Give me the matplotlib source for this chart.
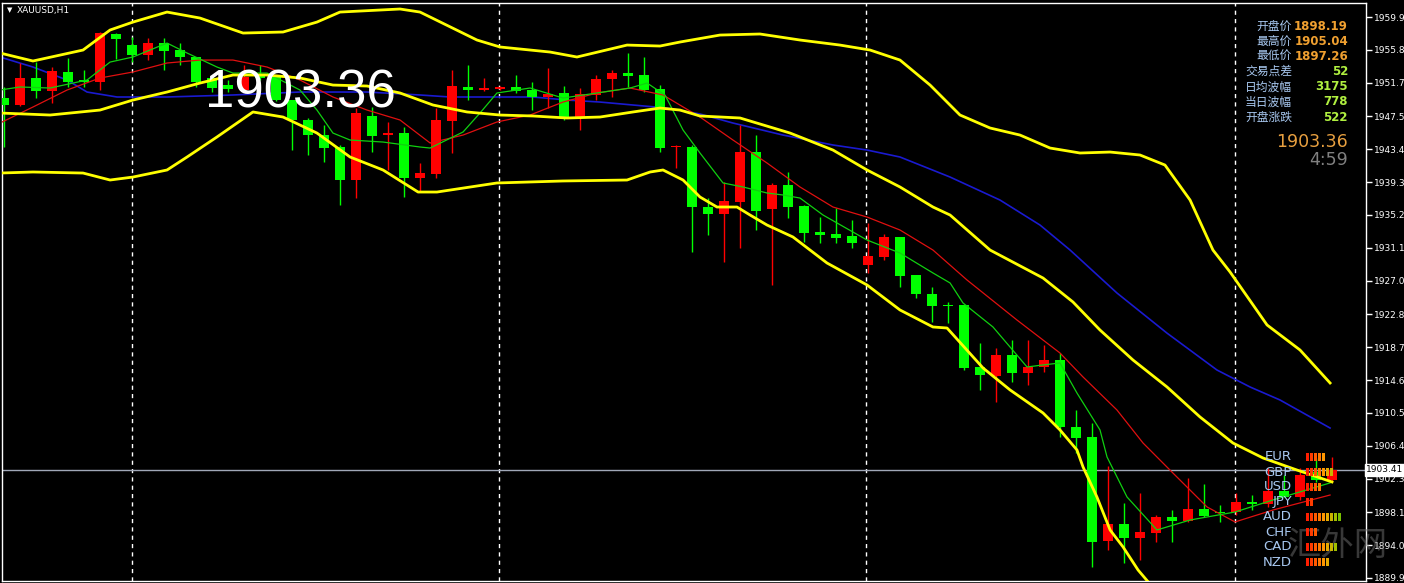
import numpy as np
import matplotlib.pyplot as plt
from matplotlib.patches import Rectangle

# %% candles (XAUUSD H1)
opens = [1949.79, 1948.92, 1952.29, 1950.67, 1953.04, 1952.04, 1951.79, 1957.78, 1956.40, 1955.16,
         1956.65, 1955.78, 1954.91, 1952.29, 1951.41, 1950.79, 1952.66, 1952.41, 1949.54, 1947.05,
         1945.17, 1943.68, 1939.56, 1947.55, 1945.17, 1945.42, 1939.81, 1940.31, 1946.92, 1951.17,
         1950.79, 1950.92, 1951.17, 1950.79, 1949.92, 1950.42, 1947.30, 1950.17, 1952.16, 1952.91,
         1952.66, 1950.92, 1943.62, 1943.68, 1936.19, 1935.32, 1936.81, 1943.05, 1935.94, 1938.94,
         1936.32, 1933.07, 1932.82, 1932.57, 1928.95, 1929.95, 1932.45, 1927.71, 1925.34, 1924.00,
         1923.96, 1916.23, 1915.10, 1917.72, 1915.47, 1916.23, 1917.10, 1908.74, 1907.49, 1894.51,
         1896.64, 1894.89, 1895.51, 1897.51, 1897.01, 1898.51, 1898.07, 1898.13, 1899.38, 1899.13,
         1900.75, 1900.00, 1903.12, 1902.13]
highs = [1951.17, 1954.16, 1954.28, 1953.66, 1954.78, 1953.29, 1958.00, 1957.85, 1957.40, 1957.28,
         1957.28, 1956.65, 1954.95, 1952.54, 1952.04, 1953.91, 1953.91, 1952.66, 1949.60, 1947.30,
         1946.42, 1943.93, 1948.54, 1948.67, 1946.80, 1946.17, 1941.68, 1948.54, 1953.29, 1953.91,
         1952.29, 1951.29, 1952.66, 1951.79, 1953.53, 1951.29, 1951.04, 1952.66, 1953.29, 1955.41,
         1954.91, 1951.41, 1943.93, 1943.93, 1937.31, 1939.31, 1946.42, 1945.17, 1939.19, 1940.56,
         1936.44, 1934.94, 1936.07, 1934.57, 1934.19, 1932.82, 1932.50, 1927.75, 1926.21, 1924.34,
         1924.00, 1919.22, 1918.60, 1919.59, 1919.59, 1918.97, 1917.97, 1910.86, 1909.24, 1903.87,
         1899.26, 1900.50, 1897.76, 1898.38, 1902.37, 1901.63, 1899.01, 1900.50, 1900.25, 1903.62,
         1902.75, 1903.62, 1904.87, 1905.04]
lows = [1943.68, 1948.79, 1949.79, 1949.17, 1951.17, 1951.17, 1950.79, 1954.66, 1954.28, 1954.53,
        1953.29, 1953.91, 1951.17, 1950.54, 1950.54, 1950.54, 1952.04, 1949.40, 1943.30, 1942.68,
        1941.81, 1936.44, 1937.31, 1943.05, 1940.81, 1937.44, 1938.06, 1939.81, 1942.93, 1949.54,
        1950.70, 1950.80, 1950.42, 1948.29, 1948.54, 1947.05, 1945.80, 1949.54, 1949.92, 1951.17,
        1950.54, 1943.05, 1941.06, 1930.57, 1932.69, 1929.33, 1931.07, 1933.32, 1926.46, 1934.82,
        1931.82, 1931.70, 1931.70, 1931.07, 1927.96, 1929.58, 1926.21, 1924.84, 1921.84, 1921.72,
        1915.85, 1913.36, 1911.86, 1914.35, 1913.98, 1915.60, 1907.49, 1905.49, 1891.27, 1893.39,
        1891.77, 1892.14, 1894.39, 1894.39, 1896.89, 1897.51, 1896.89, 1897.76, 1898.38, 1898.76,
        1900.00, 1899.63, 1901.88, 1901.88]
closes = [1948.92, 1952.29, 1950.67, 1953.16, 1951.79, 1951.79, 1957.90, 1957.15, 1955.16, 1956.65,
          1955.66, 1954.91, 1951.79, 1951.04, 1950.92, 1952.41, 1952.29, 1949.54, 1947.05, 1945.17,
          1943.55, 1939.56, 1947.92, 1945.05, 1945.42, 1939.81, 1940.43, 1947.05, 1951.29, 1950.79,
          1951.04, 1951.17, 1950.67, 1949.92, 1950.29, 1947.30, 1950.29, 1952.16, 1952.91, 1952.54,
          1950.79, 1943.55, 1943.75, 1936.19, 1935.32, 1936.94, 1943.05, 1935.69, 1938.94, 1936.19,
          1932.94, 1932.69, 1932.32, 1931.70, 1930.08, 1932.45, 1927.58, 1925.34, 1923.84, 1923.90,
          1916.10, 1915.22, 1917.72, 1915.47, 1916.23, 1917.10, 1908.74, 1907.37, 1894.39, 1896.64,
          1894.89, 1895.64, 1897.51, 1897.01, 1898.51, 1897.63, 1897.95, 1899.38, 1899.13, 1900.75,
          1900.00, 1902.75, 1902.13, 1903.36]

# %% indicator lines: (bar position, price) pairs
upper_x = [-0.25, 1.81, 4.94, 6.63, 8.06, 10.19, 12.25, 14.94, 17.44, 19.56, 21.0, 24.75, 26.0,
           29.56, 31.0, 34.13, 35.81, 38.94, 41.0, 42.25, 44.75, 47.25, 49.75, 52.25, 54.13, 56.0,
           57.88, 59.75, 61.63, 63.5, 65.38, 67.25, 69.13, 71.0, 72.56, 74.13, 75.56, 76.63, 78.94,
           81.0, 82.88]
upper_y = [1955.41, 1954.41, 1955.78, 1958.28, 1959.27, 1960.52, 1959.77, 1957.90, 1958.03, 1959.27,
           1960.52, 1960.90, 1960.52, 1957.03, 1956.16, 1955.53, 1954.91, 1956.40, 1956.28, 1956.78,
           1957.65, 1957.78, 1957.03, 1956.40, 1955.78, 1954.53, 1951.41, 1947.67, 1946.05, 1945.17,
           1943.55, 1942.93, 1943.05, 1942.68, 1941.43, 1937.06, 1930.82, 1928.08, 1921.47, 1918.35,
           1914.23]
mid_x = [-0.25, 2.88, 6.0, 8.06, 10.19, 12.25, 14.31, 16.44, 18.5, 20.56, 22.69, 24.75, 26.81,
         28.94, 31.0, 33.06, 35.19, 37.25, 39.31, 41.0, 42.25, 43.5, 46.0, 49.13, 51.81, 53.94,
         56.0, 58.06, 59.13, 61.63, 64.94, 66.81, 68.5, 70.56, 72.69, 74.75, 76.81, 78.69, 80.81, 83.0]
mid_y = [1947.92, 1947.67, 1948.29, 1949.54, 1950.54, 1951.66, 1952.66, 1952.66, 1952.29, 1951.41,
         1951.29, 1950.42, 1948.92, 1948.05, 1947.67, 1947.55, 1947.30, 1947.42, 1948.05, 1948.54,
         1948.29, 1947.55, 1947.30, 1945.42, 1943.30, 1940.81, 1938.69, 1936.19, 1935.19, 1930.82,
         1927.33, 1924.34, 1920.84, 1917.10, 1913.73, 1909.99, 1906.74, 1904.87, 1903.37, 1901.88]
lower_x = [-0.25, 1.81, 4.94, 6.63, 8.06, 10.19, 11.44, 13.31, 15.56, 17.44, 19.56, 21.63, 23.69,
           25.88, 27.06, 30.81, 34.94, 38.94, 40.38, 41.19, 42.44, 43.5, 44.56, 45.81, 46.63, 47.69,
           49.31, 51.44, 53.94, 56.0, 58.06, 58.94, 61.19, 62.88, 64.94, 66.0, 67.06, 67.44, 68.31,
           69.13, 69.94, 70.88, 71.94]
lower_y = [1940.43, 1940.56, 1940.43, 1939.56, 1939.93, 1940.81, 1942.43, 1944.93, 1948.05, 1947.42,
           1945.42, 1942.43, 1940.81, 1938.06, 1938.06, 1939.19, 1939.44, 1939.56, 1940.56, 1940.81,
           1939.56, 1937.44, 1936.19, 1936.19, 1935.19, 1933.94, 1932.45, 1929.20, 1926.46, 1923.34,
           1921.22, 1921.09, 1916.10, 1913.36, 1910.49, 1908.37, 1905.87, 1903.75, 1900.00, 1895.89,
           1893.77, 1890.89, 1888.40]
blue_x = [-0.25, 1.81, 3.94, 5.19, 7.06, 10.19, 14.31, 18.5, 22.69, 26.0, 27.88, 33.06, 35.19,
          37.25, 39.31, 41.44, 43.5, 45.56, 48.69, 51.81, 53.94, 56.0, 59.13, 62.25, 64.75, 66.63,
          69.56, 72.69, 75.81, 77.88, 79.75, 82.88]
blue_y = [1954.91, 1953.66, 1952.04, 1950.54, 1949.92, 1949.92, 1950.17, 1950.54, 1950.54, 1950.17,
          1949.92, 1949.92, 1949.54, 1949.29, 1948.92, 1948.54, 1947.80, 1946.67, 1945.17, 1943.93,
          1943.30, 1942.43, 1939.93, 1937.06, 1933.94, 1930.82, 1925.46, 1920.45, 1915.85, 1913.73,
          1912.11, 1908.61]
red_x = [-0.25, 1.81, 3.94, 6.0, 8.06, 10.19, 12.25, 14.31, 16.44, 18.5, 20.56, 22.69, 24.75,
         26.63, 28.69, 30.81, 32.88, 34.94, 37.06, 39.13, 41.19, 43.5, 45.56, 47.69, 49.75, 51.81,
         53.94, 56.0, 58.06, 60.19, 63.31, 66.0, 67.44, 69.56, 71.19, 73.06, 75.19, 76.94, 79.31, 82.88]
red_y = [1946.67, 1948.67, 1950.79, 1952.29, 1953.04, 1954.16, 1954.53, 1954.53, 1953.66, 1952.04,
         1949.92, 1948.29, 1947.05, 1944.18, 1945.17, 1946.80, 1947.67, 1949.29, 1950.42, 1951.04,
         1950.17, 1947.42, 1944.55, 1941.68, 1938.69, 1936.19, 1934.94, 1933.32, 1930.82, 1927.08,
         1922.09, 1917.97, 1914.98, 1910.86, 1906.74, 1902.99, 1898.76, 1896.89, 1898.38, 1900.25]
green_x = [-0.25, 1.0, 2.88, 5.19, 6.63, 8.06, 10.19, 11.44, 13.31, 14.31, 16.44, 18.5, 19.56,
           20.56, 21.63, 23.69, 26.0, 26.63, 28.69, 29.75, 30.81, 32.88, 34.94, 37.06, 39.13, 40.19,
           41.31, 42.44, 43.5, 44.94, 46.19, 47.69, 48.69, 49.75, 51.19, 53.94, 56.0, 58.06, 59.13,
           59.94, 61.81, 63.94, 64.94, 66.0, 67.06, 68.5, 68.94, 70.19, 72.06, 74.13, 76.94, 79.31, 82.88]
green_y = [1950.79, 1951.17, 1951.04, 1952.04, 1954.28, 1954.91, 1956.65, 1955.41, 1953.66, 1952.91,
           1952.91, 1950.79, 1948.29, 1945.42, 1944.55, 1944.30, 1943.68, 1943.55, 1945.55, 1947.92,
           1950.42, 1951.04, 1949.79, 1950.42, 1951.04, 1951.66, 1950.17, 1945.80, 1942.93, 1939.19,
           1938.69, 1937.94, 1937.69, 1937.31, 1935.19, 1932.07, 1930.45, 1927.96, 1926.71, 1924.21,
           1921.22, 1916.23, 1916.48, 1916.73, 1912.98, 1908.37, 1904.99, 1900.00, 1895.89, 1897.13,
           1898.13, 1899.63, 1901.76]

# %% chart furniture
price_ticks = [1959.90, 1955.80, 1951.70, 1947.50, 1943.40, 1939.30, 1935.20, 1931.10, 1927.00,
               1922.80, 1918.70, 1914.60, 1910.50, 1906.40, 1902.30, 1898.10, 1894.00, 1889.90]
day_breaks = [8.0, 30.94, 53.88, 76.94]
bid = 1903.41
last_price = "1903.36"
info_labels = ["开盘价", "最高价", "最低价", "交易点差", "日均波幅", "当日波幅", "开盘涨跌"]
info_values = ["1898.19", "1905.04", "1897.26", "52", "3175", "778", "522"]
currencies = ["EUR", "GBP", "USD", "JPY", "AUD", "CHF", "CAD", "NZD"]
strength = [5, 7, 4, 2, 9, 3, 8, 6]
strength_colors = ["#ff1e00", "#ff3c00", "#ff5a00", "#ff7800", "#ff9600",
                   "#e6aa00", "#c8b400", "#a0be00", "#78c000"]

W, H = 1404, 583
fig = plt.figure(figsize=(W / 100, H / 100), dpi=100, facecolor="black")
ax = fig.add_axes([2 / W, 2 / H, 1364 / W, 578 / H], facecolor="black")

n = len(opens)
xs = np.arange(n)
o = np.array(opens); c = np.array(closes)
up = c >= o
col = np.where(up, "#ff0000", "#00ff00")

# wicks and bodies
ax.vlines(xs, lows, highs, colors=col, linewidth=1, zorder=3)
body_lo = np.minimum(o, c)
body_h = np.maximum(np.abs(c - o), 0.12)
ax.bar(xs, body_h, bottom=body_lo, width=0.68, color=col, linewidth=0, zorder=4)

# indicators
ax.plot(blue_x, blue_y, color="#1a1ad0", linewidth=1.2, zorder=2)
ax.plot(red_x, red_y, color="#e01010", linewidth=0.9, zorder=5)
ax.plot(green_x, green_y, color="#10d010", linewidth=0.9, zorder=5)
for bx, by in ((upper_x, upper_y), (mid_x, mid_y), (lower_x, lower_y)):
    ax.plot(bx, by, color="#ffff00", linewidth=2.0, zorder=6)

for d in day_breaks:
    ax.axvline(d, color="white", linewidth=1, linestyle=(0, (3, 3)), zorder=1)
ax.axhline(bid, color="#a0a8b8", linewidth=1, zorder=1)

ax.set_xlim(-0.125, 85.125)
ax.set_ylim(1889.52, 1961.65)
ax.set_xticks([])
ax.yaxis.tick_right()
ax.set_yticks(price_ticks)
ax.set_yticklabels([f"{t:.2f}" for t in price_ticks])
ax.tick_params(axis="y", colors="white", labelcolor="white", labelsize=6.5,
               length=4, width=1, direction="out", pad=2)
for s in ax.spines.values():
    s.set_color("white")
    s.set_linewidth(1)

# bid label on the price axis
ax.text(1.0, bid, f"{bid:.2f}", transform=ax.get_yaxis_transform(), ha="left", va="center",
        fontsize=6.5, color="black", zorder=10, clip_on=False,
        bbox=dict(boxstyle="square,pad=0.15", facecolor="white", edgecolor="white"))

# top-left symbol
fig.text(7 / W, 1 - 10 / H, "▼", fontsize=5, color="white", va="center")
fig.text(17 / W, 1 - 10 / H, "XAUUSD,H1", fontsize=6.5, color="white", va="center")

# big price
fig.text(205 / W, 1 - 93 / H, last_price, fontsize=38, color="white", va="center",
         family="Liberation Sans")

# info panel
cjk = ["Noto Sans CJK SC", "DejaVu Sans"]
for k, (lab, val) in enumerate(zip(info_labels, info_values)):
    yy = 1 - (26 + 15.2 * k) / H
    fig.text(1292 / W, yy, lab, ha="right", va="center", fontsize=8.5, color="#a8c8f0", family=cjk)
    fig.text(1348 / W, yy, val, ha="right", va="center", fontsize=8.5, fontweight="bold",
             color="#f0a030" if k < 3 else "#b0f040", family="DejaVu Sans")
fig.text(1348 / W, 1 - 142 / H, last_price, ha="right", va="center", fontsize=12.5,
         color="#e8a040", family="DejaVu Sans")
fig.text(1348 / W, 1 - 160 / H, "4:59", ha="right", va="center", fontsize=12.5,
         color="#808080", family="DejaVu Sans")

# currency strength
for k, (cur, s) in enumerate(zip(currencies, strength)):
    yy = 457 + 15 * k
    fig.text(1292 / W, 1 - yy / H, cur, ha="right", va="center", fontsize=9.5, color="#a8c8f0")
    for j in range(s):
        fig.patches.append(Rectangle(((1306 + 4 * j) / W, 1 - (yy + 4) / H), 3 / W, 8 / H,
                                     transform=fig.transFigure, facecolor=strength_colors[j],
                                     edgecolor="none", zorder=5))

# watermark
fig.text(1338 / W, 1 - 545 / H, "汇外网", ha="center", va="center", fontsize=24,
         color="#707070", alpha=0.5, family=cjk)

fig.savefig("out.png", dpi=100, facecolor="black")
